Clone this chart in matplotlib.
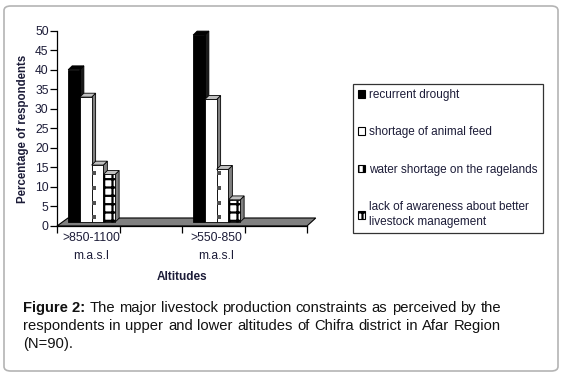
import numpy as np
import matplotlib
matplotlib.use('Agg')
from matplotlib import pyplot as plt
from matplotlib.patches import Polygon, Rectangle, FancyBboxPatch

plt.rcParams['font.family'] = ['Liberation Sans', 'DejaVu Sans']
plt.rcParams['hatch.linewidth'] = 1.6

# data
altitudes = ['>850-1100\nm.a.s.l', '>550-850\nm.a.s.l']
constraints = ['recurrent drought', 'shortage of animal feed',
               'water shortage on the ragelands',
               'lack of awareness about better\nlivestock management']
values = np.array([[40.0, 48.9],
                   [33.0, 32.4],
                   [15.6, 14.5],
                   [13.2, 6.7]])
yticks = np.arange(0, 51, 5)

txt = '#1c1c38'
W, H = 562, 374
fig = plt.figure(figsize=(W / 100, H / 100), dpi=100)

# rounded frame around chart + caption
frame = FancyBboxPatch((4 / W, 3 / H), 554 / W, 365 / H,
                       boxstyle='round,pad=0,rounding_size=0.012',
                       transform=fig.transFigure, fc='none', ec='#b4b4b4', lw=1.2)
fig.patches.append(frame)

ax = fig.add_axes([57 / W, (H - 226) / H, 259 / W, 195.3 / H])
ax.set_xlim(-0.272, 1.80)
ax.set_ylim(0, 50)
ax.patch.set_alpha(0)

bw = 0.094          # bar width (category units)
dx, dy = 0.032, 1.0  # depth offset of 3D faces
base = 1.0
pos = np.arange(len(altitudes))

# floor
floor = Polygon([(-0.272, 0), (1.728, 0), (1.728 + 0.07, 2.05), (-0.272 + 0.088, 2.05)],
                closed=True, fc='#808080', ec='black', lw=0.8, zorder=1, clip_on=False)
ax.add_patch(floor)

faces = ['black', 'white', 'white', 'white']
sides = ['#1a1a1a', '#808080', '#808080', '#808080']
tops = ['black', '#c0c0c0', '#c0c0c0', '#c0c0c0']
hatches = [None, None, None, '++']

for g in pos:
    for i in range(len(constraints)):
        x0 = g - 2 * bw + i * bw + 0.005
        x1 = x0 + bw
        v = values[i, g]
        z = 2 + g * 10 + i
        ax.add_patch(Polygon([(x1, base), (x1, v), (x1 + dx, v + dy), (x1 + dx, base + dy)],
                             closed=True, fc=sides[i], ec='black', lw=0.6, zorder=z, clip_on=False))
        ax.add_patch(Polygon([(x0, v), (x0 + dx, v + dy), (x1 + dx, v + dy), (x1, v)],
                             closed=True, fc=tops[i], ec='black', lw=0.6, zorder=z, clip_on=False))
        ax.bar(x0, v - base, bottom=base, width=bw, align='edge', color=faces[i],
               edgecolor='black', lw=0.6, hatch=hatches[i], zorder=z, clip_on=False)
        if i == 2:
            ys = np.arange(base + 1.2, v - 0.5, 3.8)
            ax.scatter(np.full(len(ys), x0 + 0.022), ys, marker='s', s=9,
                       c='#505050', zorder=z + 0.5, clip_on=False, linewidths=0)

# axes styling
for s in ['top', 'right']:
    ax.spines[s].set_visible(False)
ax.spines['bottom'].set_bounds(-0.272, 1.728)
ax.spines['left'].set_linewidth(0.9)
ax.spines['bottom'].set_linewidth(0.9)
ax.set_yticks(yticks)
ax.tick_params(axis='y', length=5, width=0.9, labelsize=8.7, labelcolor=txt, pad=1)
ax.set_xticks(pos, altitudes, linespacing=1.75)
ax.set_xticks(np.arange(-0.272, 1.75, 0.5), minor=True)
ax.tick_params(axis='x', which='major', length=0, pad=4, labelsize=8.7, labelcolor=txt)
ax.tick_params(axis='x', which='minor', length=5, width=0.9)

fig.text(23 / W, 1 - 129 / H, 'Percentage of respondents', rotation=90, fontsize=8.3,
         fontweight='bold', color=txt, ha='center', va='center')
fig.text(182 / W, 1 - 277 / H, 'Altitudes', fontsize=8.5, fontweight='bold',
         color=txt, ha='center', va='center')

# legend
handles = [Rectangle((0, 0), 1, 1, fc='black', ec='black', lw=0.8),
           Rectangle((0, 0), 1, 1, fc='white', ec='black', lw=0.8),
           Rectangle((0, 0), 1, 1, fc='white', ec='black', lw=0.8, hatch='|||'),
           Rectangle((0, 0), 1, 1, fc='white', ec='black', lw=0.8, hatch='++')]
leg = fig.legend(handles, constraints, loc='upper left',
                 bbox_to_anchor=(353 / W, 1 - 84 / H), fontsize=8.5, frameon=True,
                 fancybox=False, edgecolor='black', handlelength=0.6, handleheight=0.6,
                 handletextpad=0.35, labelspacing=2.15, borderpad=0.42, borderaxespad=0)
leg.get_frame().set_linewidth(0.9)
for t in leg.get_texts():
    t.set_color(txt)
    t.set_linespacing(1.3)

# caption, justified
renderer = fig.canvas.get_renderer()
cap_lines = [[('Figure 2:', 'bold'), ('The', 'normal'), ('major', 'normal'), ('livestock', 'normal'),
              ('production', 'normal'), ('constraints', 'normal'), ('as', 'normal'),
              ('perceived', 'normal'), ('by', 'normal'), ('the', 'normal')],
             [(w, 'normal') for w in 'respondents in upper and lower altitudes of Chifra district in Afar Region'.split()],
             [('(N=90).', 'normal')]]
x_left, x_right = 23, 501
for li, words in enumerate(cap_lines):
    y = 1 - (308 + li * 18) / H
    items = [fig.text(0, y, w, fontsize=10.6, fontweight=fw, color='#111111', va='center')
             for w, fw in words]
    widths = [t.get_window_extent(renderer).width for t in items]
    if len(items) > 1 and li < len(cap_lines) - 1:
        gap = (x_right - x_left - sum(widths)) / (len(items) - 1)
    else:
        gap = 3
    x = x_left
    for t, wd in zip(items, widths):
        t.set_x(x / W)
        x += wd + gap

fig.savefig('out.png', dpi=100)
